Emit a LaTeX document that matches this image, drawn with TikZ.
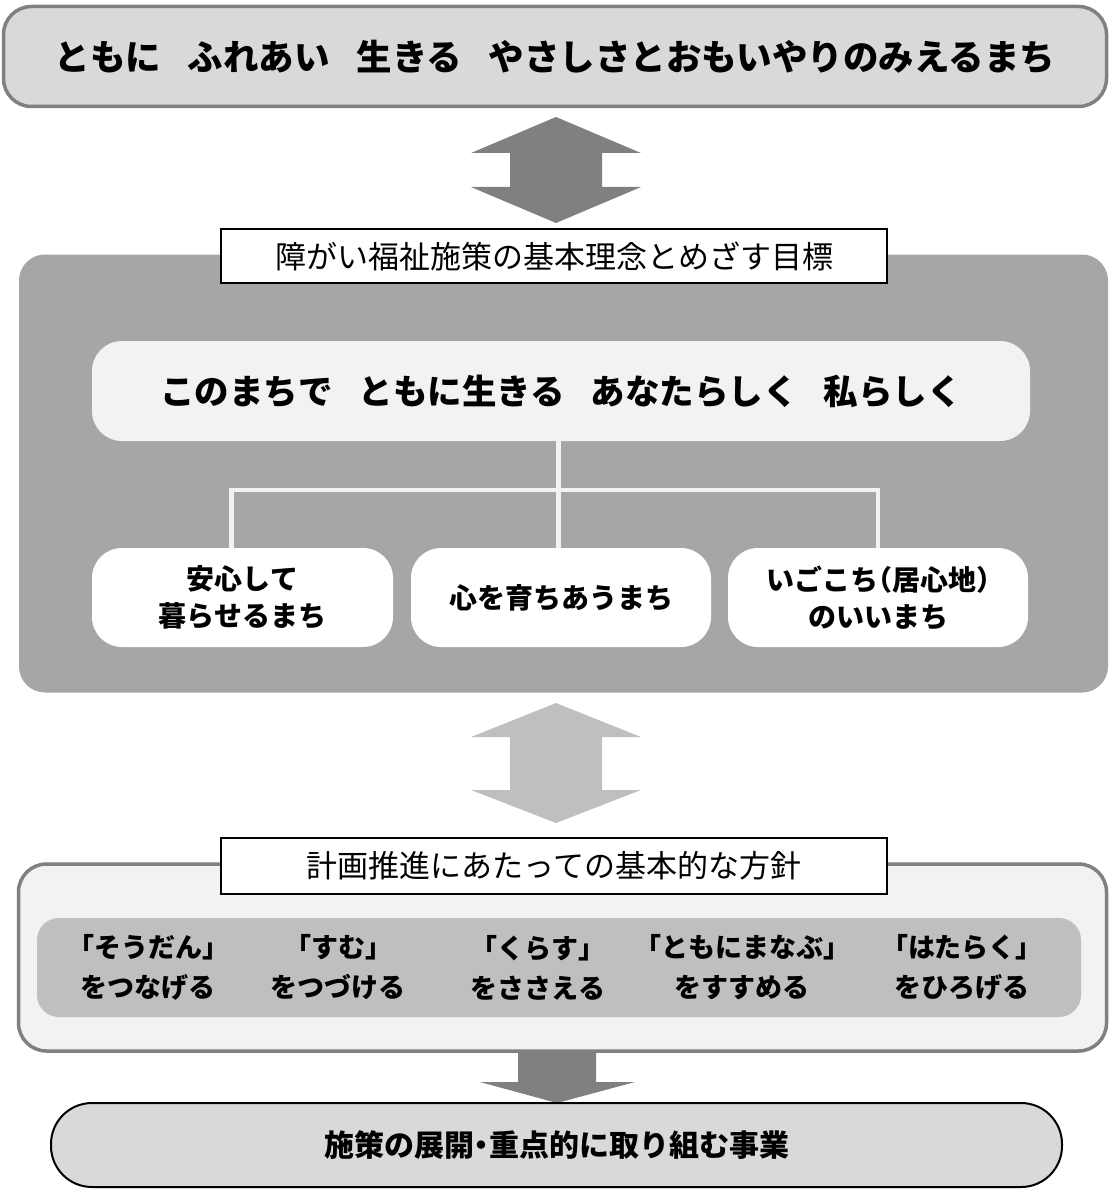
\documentclass[tikz,border=0pt]{standalone}
\usepackage{fontspec}
\setmainfont{Noto Sans CJK JP}
\newfontfamily\jph{Noto Sans CJK JP}[RawFeature=+halt]
\usetikzlibrary{calc}
\definecolor{cLight}{HTML}{D9D9D9}
\definecolor{cDark}{HTML}{808080}
\definecolor{cMid}{HTML}{A6A6A6}
\definecolor{cPale}{HTML}{F2F2F2}
\definecolor{cSoft}{HTML}{BFBFBF}
\newcommand{\wgap}{\hspace{0.75em}}
\begin{document}
\begin{tikzpicture}[x=1pt,y=-1pt,
  base/.style={inner sep=0pt, outer sep=0pt, align=center, text=black},
  topbox/.style={base, rounded corners=28pt, fill=cLight, draw=cDark, line width=3.5pt,
     font=\bfseries\fontsize{35.5}{42}\selectfont},
  lblbox/.style={base, fill=white, draw=black, line width=2pt,
     font=\fontsize{31}{38}\selectfont},
  panel/.style={base, rounded corners=26pt},
  mainbox/.style={base, rounded corners=30pt, fill=cPale,
     font=\bfseries\fontsize{34.5}{40}\selectfont},
  subbox/.style={base, rounded corners=30pt, fill=white,
     font=\jph\bfseries\fontsize{28}{37}\selectfont},
  striptext/.style={base, font=\jph\bfseries\fontsize{27}{40}\selectfont},
  endbox/.style={base, rounded corners=41pt, fill=cLight, draw=black, line width=2pt,
     font=\jph\bfseries\fontsize{30}{36}\selectfont},
  tree/.style={draw=cPale, line width=4.5pt}
]
\useasboundingbox (0,0) rectangle (1110,1190);

% top box
\node[topbox, minimum width=1103pt, minimum height=100pt] (top) at (555,56.5)
  {ともに\wgap ふれあい\wgap 生きる\wgap やさしさとおもいやりのみえるまち};

% double arrow 1
\fill[cDark] (556,117) -- (641,153) -- (602,153) -- (602,187) -- (641,187) -- (556,223)
  -- (471,187) -- (510,187) -- (510,153) -- (471,153) -- cycle;

% dark panel
\node[panel, fill=cMid, minimum width=1089pt, minimum height=438pt] (panelA) at (563.5,473.5) {};
\node[lblbox, minimum width=666pt, minimum height=54pt] (lblA) at (554,256)
  {障がい福祉施策の基本理念とめざす目標};

\node[mainbox, minimum width=938pt, minimum height=100pt] (main) at (561,391)
  {このまちで\wgap ともに生きる\wgap あなたらしく\wgap 私らしく};

\node[subbox, minimum width=301pt, minimum height=99pt] (s1) at (242.5,597.5)
  {安心して\\暮らせるまち};
\node[subbox, minimum width=300pt, minimum height=99pt] (s2) at (561,597.5)
  {心を育ちあうまち};
\node[subbox, minimum width=300pt, minimum height=99pt] (s3) at (878,597.5)
  {いごこち（居心地）\\のいいまち};

\draw[tree] ($(main.south)+(-2.5,0)$) -- ($(s2.north)+(-2.5,0)$);
\draw[tree] ($(s1.north)+(-11,0)$) |- ($(main.south)+(0,49)$) -| (s3.north);

% double arrow 2
\fill[cSoft] (556,703) -- (641,737) -- (602,737) -- (602,790) -- (641,790) -- (556,823)
  -- (471,790) -- (510,790) -- (510,737) -- (471,737) -- cycle;

% lower panel
\node[panel, fill=cPale, draw=cDark, line width=3.5pt, rounded corners=28pt,
  minimum width=1088pt, minimum height=187pt] (panelB) at (562.5,957.5) {};
\node[lblbox, minimum width=666pt, minimum height=56pt] (lblB) at (554,866)
  {計画推進にあたっての基本的な方針};
\node[panel, fill=cSoft, rounded corners=22pt, minimum width=1044pt, minimum height=99pt]
  (strip) at (559,967.5) {};

\node[striptext] (t1) at (148,967.5) {「そうだん」\\をつなげる};
\node[striptext] (t2) at (338,967.5) {「すむ」\\をつづける};
\node[striptext] (t3) at (538,967.5) {「くらす」\\をささえる};
\node[striptext] (t4) at (742,967.5) {「ともにまなぶ」\\をすすめる};
\node[striptext] (t5) at (962,967.5) {「はたらく」\\をひろげる};

% down arrow
\fill[cDark] (518,1050) -- (596,1050) -- (596,1082) -- (635,1082) -- (557,1103)
  -- (480,1082) -- (518,1082) -- cycle;

\node[endbox, minimum width=1011pt, minimum height=84pt] (endb) at (556.5,1145)
  {施策の展開・重点的に取り組む事業};
\end{tikzpicture}
\end{document}
